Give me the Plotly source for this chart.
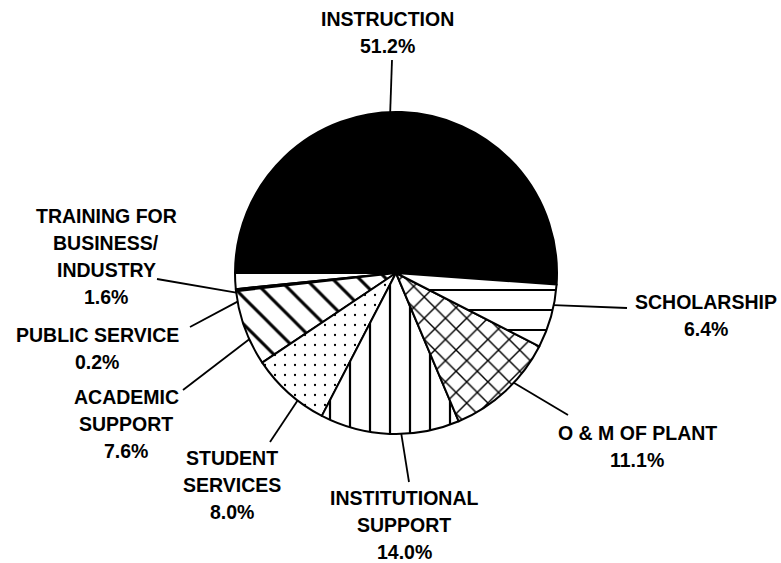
import numpy as np
import plotly.graph_objects as go

# slices, counterclockwise starting at 3 o'clock
categories = ["INSTRUCTION", "TRAINING FOR BUSINESS/INDUSTRY", "PUBLIC SERVICE",
              "ACADEMIC SUPPORT", "STUDENT SERVICES", "INSTITUTIONAL SUPPORT",
              "O & M OF PLANT", "SCHOLARSHIP"]
percents = [51.2, 1.6, 0.2, 7.6, 8.0, 14.0, 11.1, 6.4]
label_lines = [
    ["INSTRUCTION"],
    ["TRAINING FOR", "BUSINESS/", "INDUSTRY"],
    ["PUBLIC SERVICE"],
    ["ACADEMIC", "SUPPORT"],
    ["STUDENT", "SERVICES"],
    ["INSTITUTIONAL", "SUPPORT"],
    ["O & M OF PLANT"],
    ["SCHOLARSHIP"],
]

W, H = 781, 563
cx, cy, r = 396, 273, 161

patterns = ["", "", "", "\\", ".", "|", "x", "-"]
psize = [10, 10, 10, 19, 10, 20, 15, 20]
psolid = [0.1, 0.1, 0.1, 0.16, 0.04, 0.11, 0.18, 0.1]
colors = ["black"] + ["white"] * 7

fig = go.Figure(go.Pie(
    labels=categories, values=percents, sort=False,
    direction="counterclockwise", rotation=-90,
    textinfo="none", hoverinfo="label+percent",
    domain=dict(x=[(cx - r) / W, (cx + r) / W], y=[1 - (cy + r) / H, 1 - (cy - r) / H]),
    marker=dict(colors=colors, line=dict(color="black", width=2),
                pattern=dict(shape=patterns, fgcolor="black", bgcolor="white",
                             size=psize, solidity=psolid)),
))

# label block: center x, first line y (pixels), and leader line outer end
label_pos = [(387, 19), (106, 216), (97, 335), (126, 397), (232, 458), (404, 498), (637, 433), (706, 302)]
leader_end = [(392, 60), (157, 279), (190, 327), (183, 390), (270, 442), (409, 482), (568, 415), (627, 308)]

cum = np.cumsum([0] + percents)
tot = cum[-1]
shapes, annos = [], []
for i, name in enumerate(categories):
    mid = np.deg2rad((cum[i] + cum[i + 1]) / 2 / tot * 360)
    tx, ty = cx + r * np.cos(mid), cy - r * np.sin(mid)
    ex, ey = leader_end[i]
    shapes.append(dict(type="line", xref="paper", yref="paper",
                       x0=tx / W, y0=1 - ty / H, x1=ex / W, y1=1 - ey / H,
                       line=dict(color="black", width=1.8)))
    lx, ly = label_pos[i]
    lines = label_lines[i] + [f"{percents[i]:.1f}%"]
    for j, t in enumerate(lines):
        annos.append(dict(x=lx / W, y=1 - (ly + 27 * j) / H, xref="paper", yref="paper",
                          text=t, showarrow=False, xanchor="center", yanchor="middle",
                          font=dict(family="Liberation Sans, Arial", size=19.5, color="black", weight="bold")))

fig.update_layout(width=W, height=H, margin=dict(l=0, r=0, t=0, b=0),
                  paper_bgcolor="white", plot_bgcolor="white", showlegend=False,
                  shapes=shapes, annotations=annos)

# drop the page's default body margin so the figure sits at the window corner
fig.write_html("out.html", config={"displayModeBar": False},
               post_script="document.body.style.margin='0';")
